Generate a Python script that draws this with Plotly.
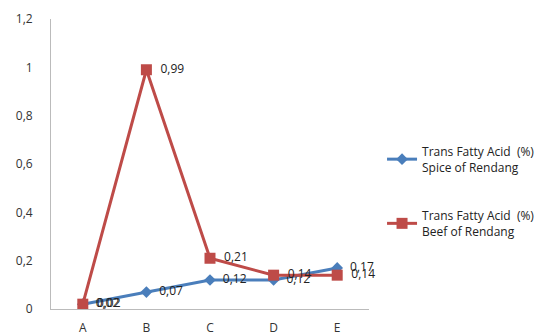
import plotly.graph_objects as go

categories = ["A", "B", "C", "D", "E"]
spice = [0.02, 0.07, 0.12, 0.12, 0.17]
beef = [0.02, 0.99, 0.21, 0.14, 0.14]
spice_name = "Trans Fatty Acid  (%)<br>Spice of Rendang"
beef_name = "Trans Fatty Acid  (%)<br>Beef of Rendang"
y_ticks = [0, 0.2, 0.4, 0.6, 0.8, 1, 1.2]
y_tick_text = ["0", "0,2", "0,4", "0,6", "0,8", "1", "1,2"]

def fmt(v):
    return "  " + f"{v:.2f}".replace(".", ",")

fig = go.Figure()
fig.add_trace(go.Scatter(
    x=categories, y=spice, name=spice_name, mode="lines+markers+text",
    legendgroup="spice", cliponaxis=False,
    line=dict(color="#4A7EBB", width=3),
    marker=dict(symbol="diamond", size=9, color="#4A7EBB"),
    text=[fmt(v) for v in spice], textposition="middle right",
    textfont=dict(size=12, color="#222222", family="Open Sans, sans-serif"),
))
fig.add_trace(go.Scatter(
    x=categories, y=beef, name=beef_name, mode="lines+markers+text",
    legendgroup="beef", cliponaxis=False,
    line=dict(color="#BE4B48", width=3),
    marker=dict(symbol="square", size=11, color="#BE4B48"),
    text=[fmt(v) for v in beef], textposition="middle right",
    textfont=dict(size=12, color="#222222", family="Open Sans, sans-serif"),
))

fig.update_layout(
    width=547, height=328,
    margin=dict(l=43, r=186, t=11, b=27),
    paper_bgcolor="white", plot_bgcolor="white",
    font=dict(family="Open Sans, sans-serif", size=11, color="#333333"),
    showlegend=True,
    legend=dict(x=1.041, y=0.405, xanchor="left", yanchor="middle",
                font=dict(size=12, color="#222222"),
                tracegroupgap=30, itemwidth=30, bgcolor="rgba(0,0,0,0)"),
    xaxis=dict(showline=True, linecolor="#BBBBBB", linewidth=1, showgrid=False,
               ticks="", ticklabelstandoff=8, range=[-0.5, 4.5], automargin=False,
               tickfont=dict(size=12, color="#333333")),
    yaxis=dict(showline=True, linecolor="#BBBBBB", linewidth=1, showgrid=False,
               range=[0, 1.2], tickvals=y_ticks, ticktext=y_tick_text,
               ticks="", ticklabelstandoff=15, zeroline=False, automargin=False,
               tickfont=dict(size=12, color="#333333")),
)

fig.write_html("out.html")
